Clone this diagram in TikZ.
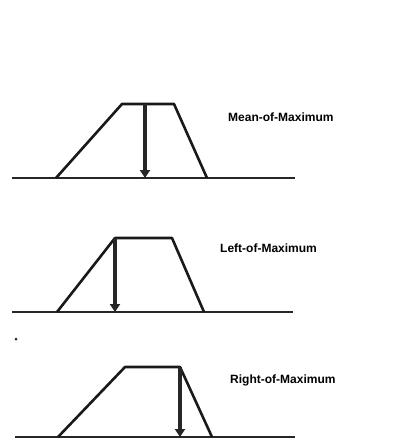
\documentclass[tikz,border=0pt]{standalone}
\usepackage{fontspec}
\setmainfont{Liberation Sans}
\usetikzlibrary{arrows.meta}
\begin{document}
\begin{tikzpicture}[x=1pt,y=-1pt,
axis/.style={line width=1.8pt,black!85},
trap/.style={line width=2.6pt,black!90,line join=round},
defuzz/.style={line width=4pt,black!85,-{Triangle[length=8pt,width=10pt]}},
label/.style={font=\bfseries\fontsize{12}{14}\selectfont,anchor=west,inner sep=0pt}
]
\useasboundingbox (0,0) rectangle (396,439);
% mean of maximum
\coordinate (a1) at (12,178); \coordinate (b1) at (295,178);
\coordinate (p1) at (56,178); \coordinate (q1) at (122,104);
\coordinate (r1) at (174,104); \coordinate (s1) at (207,178);
\coordinate (t1) at (145,104); \coordinate (u1) at (145,178);
\draw[axis] (a1) -- (b1);
\draw[trap] (p1) -- (q1) -- (r1) -- (s1);
\draw[defuzz] (t1) -- (u1);
\node[label] (l1) at (228,117) {Mean-of-Maximum};
% left of maximum
\coordinate (a2) at (12,312); \coordinate (b2) at (293,312);
\coordinate (p2) at (57,312); \coordinate (q2) at (115,238);
\coordinate (r2) at (172,238); \coordinate (s2) at (204,312);
\coordinate (t2) at (115,238); \coordinate (u2) at (115,312);
\draw[axis] (a2) -- (b2);
\draw[trap] (p2) -- (q2) -- (r2) -- (s2);
\draw[defuzz] (t2) -- (u2);
\node[label] (l2) at (220,248) {Left-of-Maximum};
% right of maximum
\fill[black!85] (16,339) circle (1.5pt);
\coordinate (a3) at (15,437); \coordinate (b3) at (295,437);
\coordinate (p3) at (58,437); \coordinate (q3) at (125,367);
\coordinate (r3) at (180,367); \coordinate (s3) at (212,437);
\coordinate (t3) at (180,367); \coordinate (u3) at (180,437);
\draw[axis] (a3) -- (b3);
\draw[trap] (p3) -- (q3) -- (r3) -- (s3);
\draw[defuzz] (t3) -- (u3);
\node[label] (l3) at (230,380) {Right-of-Maximum};
\end{tikzpicture}
\end{document}
